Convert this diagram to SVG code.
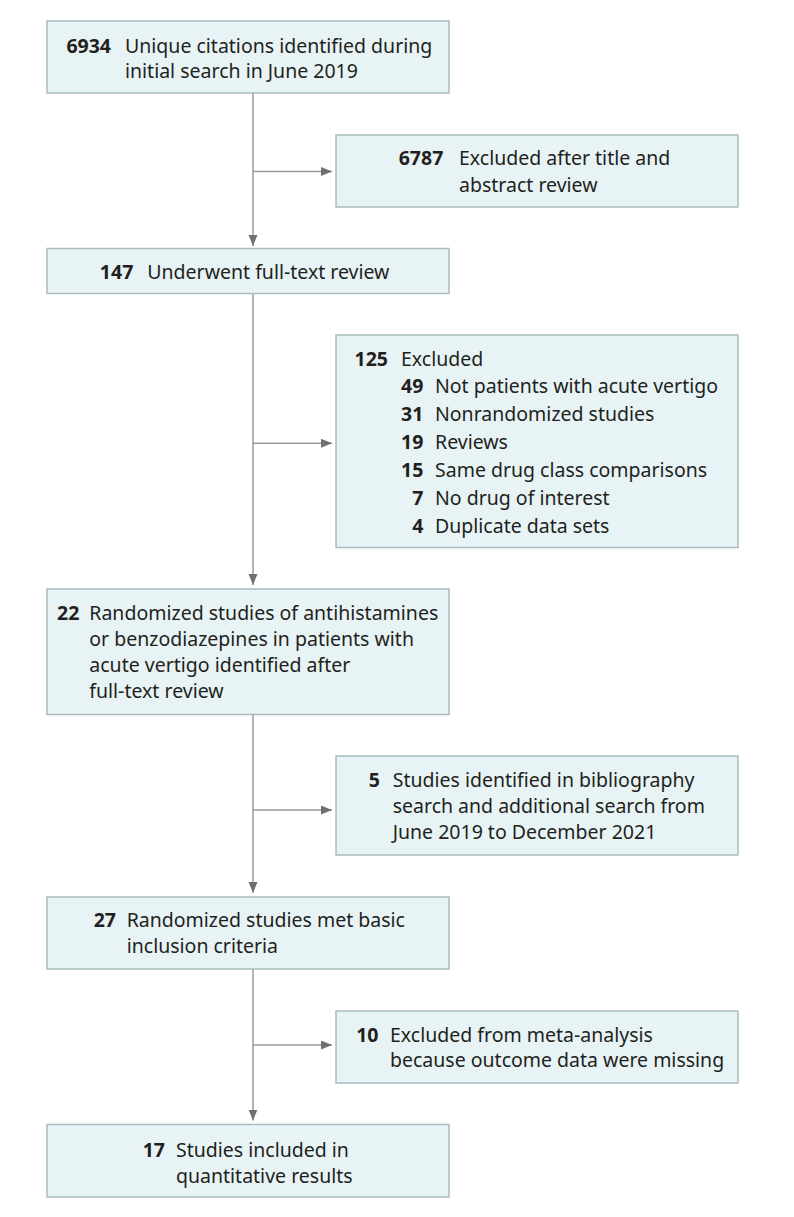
<svg xmlns="http://www.w3.org/2000/svg" width="794" height="1217" viewBox="0 0 794 1217">
<style>
.box{fill:#e7f3f4;stroke:#a9bdbf;stroke-width:1.5}
.t{font-family:"Noto Sans","Liberation Sans",sans-serif;font-size:19.5px;fill:#231f20}
.n{font-weight:bold;text-anchor:end}
.edge{fill:none;stroke:#9a9a9a;stroke-width:1.5}
</style>
<defs>
<marker id="ah" markerUnits="userSpaceOnUse" markerWidth="12" markerHeight="10" refX="11" refY="4.5" orient="auto">
<path d="M0,0 L11,4.5 L0,9 z" fill="#707070"/>
</marker>
</defs>
<rect width="794" height="1217" fill="#ffffff"/>
<g id="connectors">
<path class="edge" d="M253,93 V246" marker-end="url(#ah)"/>
<path class="edge" d="M253,171.5 H332" marker-end="url(#ah)"/>
<path class="edge" d="M253,293.5 V585" marker-end="url(#ah)"/>
<path class="edge" d="M253,443.3 H332" marker-end="url(#ah)"/>
<path class="edge" d="M253,714.5 V893" marker-end="url(#ah)"/>
<path class="edge" d="M253,810 H332" marker-end="url(#ah)"/>
<path class="edge" d="M253,969 V1120.5" marker-end="url(#ah)"/>
<path class="edge" d="M253,1045 H332" marker-end="url(#ah)"/>
</g>
<g id="n6934">
<rect class="box" x="47" y="21" width="402" height="72"/>
<text class="t n" x="111" y="52.7">6934</text>
<text class="t" x="125" y="52.7">Unique citations identified during</text>
<text class="t" x="125" y="77.7">initial search in June 2019</text>
</g>
<g id="n6787">
<rect class="box" x="336" y="135" width="402" height="72"/>
<text class="t n" x="443.3" y="165">6787</text>
<text class="t" x="459" y="165">Excluded after title and</text>
<text class="t" x="459" y="191.7">abstract review</text>
</g>
<g id="n147">
<rect class="box" x="47" y="248.5" width="402" height="45"/>
<text class="t n" x="133.3" y="279.3">147</text>
<text class="t" x="147.3" y="279.3">Underwent full-text review</text>
</g>
<g id="n125">
<rect class="box" x="336" y="335" width="402" height="212.5"/>
<text class="t n" x="388" y="365.5">125</text>
<text class="t" x="401" y="365.5">Excluded</text>
<text class="t n" x="423.3" y="393.3">49</text>
<text class="t" x="435" y="393.3">Not patients with acute vertigo</text>
<text class="t n" x="423.3" y="421">31</text>
<text class="t" x="435" y="421">Nonrandomized studies</text>
<text class="t n" x="423.3" y="449.3">19</text>
<text class="t" x="435" y="449.3">Reviews</text>
<text class="t n" x="423.3" y="476.7">15</text>
<text class="t" x="435" y="476.7">Same drug class comparisons</text>
<text class="t n" x="423.3" y="505">7</text>
<text class="t" x="435" y="505">No drug of interest</text>
<text class="t n" x="423.3" y="532.7">4</text>
<text class="t" x="435" y="532.7">Duplicate data sets</text>
</g>
<g id="n22">
<rect class="box" x="47" y="589" width="402" height="125.5"/>
<text class="t n" x="79.3" y="620">22</text>
<text class="t" x="89.3" y="620">Randomized studies of antihistamines</text>
<text class="t" x="89.3" y="646">or benzodiazepines in patients with</text>
<text class="t" x="89.3" y="671.7">acute vertigo identified after</text>
<text class="t" x="89.3" y="698.3">full-text review</text>
</g>
<g id="n5">
<rect class="box" x="336" y="756" width="402" height="99"/>
<text class="t n" x="380" y="786.7">5</text>
<text class="t" x="392.7" y="786.7">Studies identified in bibliography</text>
<text class="t" x="392.7" y="812.7">search and additional search from</text>
<text class="t" x="392.7" y="839">June 2019 to December 2021</text>
</g>
<g id="n27">
<rect class="box" x="47" y="897" width="402" height="72"/>
<text class="t n" x="116" y="926.7">27</text>
<text class="t" x="126.7" y="926.7">Randomized studies met basic</text>
<text class="t" x="126.7" y="952.7">inclusion criteria</text>
</g>
<g id="n10">
<rect class="box" x="336" y="1011" width="402" height="72"/>
<text class="t n" x="378.5" y="1041.7">10</text>
<text class="t" x="390" y="1041.7">Excluded from meta-analysis</text>
<text class="t" x="390" y="1066.7">because outcome data were missing</text>
</g>
<g id="n17">
<rect class="box" x="47" y="1124.5" width="402" height="72.5"/>
<text class="t n" x="165" y="1156.7">17</text>
<text class="t" x="176" y="1156.7">Studies included in</text>
<text class="t" x="176" y="1182.7">quantitative results</text>
</g>
</svg>
